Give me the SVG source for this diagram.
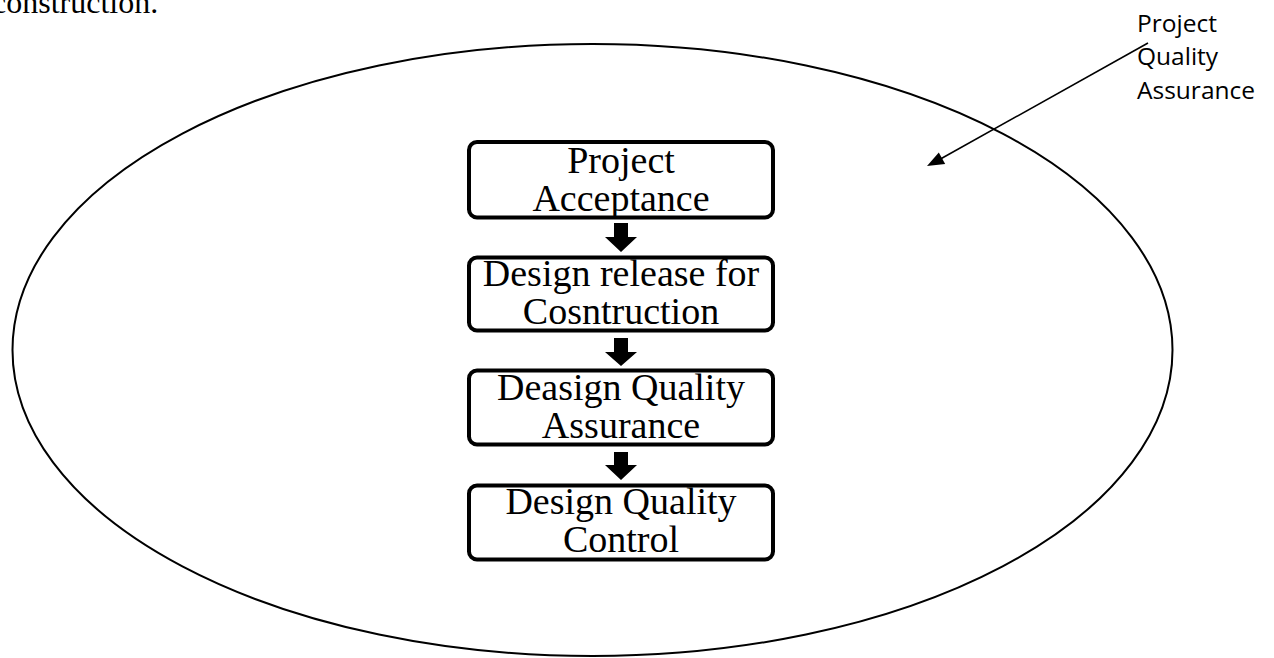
<svg xmlns="http://www.w3.org/2000/svg" width="1274" height="658" viewBox="0 0 1274 658">
  <style>
    .box { fill: #ffffff; stroke: #000000; stroke-width: 4; }
    .serif { font-family: "Liberation Serif", "Times New Roman", serif; fill: #000000; }
    .lbl { font-size: 38px; text-anchor: middle; }
    .sans { font-family: "Open Sans", "Liberation Sans", sans-serif; font-size: 24.5px; fill: #000000; }
    .blk { fill: #000000; stroke: none; }
  </style>
  <rect x="0" y="0" width="1274" height="658" fill="#ffffff"/>
  <text class="serif" x="-8" y="13" font-size="32">construction.</text>

  <g id="boundary">
    <ellipse cx="592.5" cy="350" rx="580" ry="306" fill="none" stroke="#000000" stroke-width="2"/>
  </g>

  <g id="label-pqa">
    <text class="sans" x="1137" y="32">Project</text>
    <text class="sans" x="1137" y="65">Quality</text>
    <text class="sans" x="1137" y="99">Assurance</text>
  </g>

  <g id="node-acceptance">
    <rect class="box" x="469" y="142" width="304" height="75.5" rx="8"/>
    <text class="serif lbl" x="621" y="173">Project</text>
    <text class="serif lbl" x="621" y="211">Acceptance</text>
  </g>
  <g id="node-release">
    <rect class="box" x="469" y="257.5" width="304" height="73" rx="8"/>
    <text class="serif lbl" x="621" y="286">Design release for</text>
    <text class="serif lbl" x="621" y="324">Cosntruction</text>
  </g>
  <g id="node-qa">
    <rect class="box" x="469" y="370.5" width="304" height="74" rx="8"/>
    <text class="serif lbl" x="621" y="400">Deasign Quality</text>
    <text class="serif lbl" x="621" y="438">Assurance</text>
  </g>
  <g id="node-qc">
    <rect class="box" x="469" y="485.5" width="304" height="74" rx="8"/>
    <text class="serif lbl" x="621" y="514">Design Quality</text>
    <text class="serif lbl" x="621" y="552">Control</text>
  </g>

  <g id="connectors">
    <polygon class="blk" points="614,223 628,223 628,237 637,237 621,252 605,237 614,237"/>
    <polygon class="blk" points="614,338 628,338 628,352 637,352 621,366 605,352 614,352"/>
    <polygon class="blk" points="614,452 628,452 628,465 637,465 621,480 605,465 614,465"/>
    <line x1="1148" y1="43" x2="940" y2="159.3" stroke="#000000" stroke-width="1.6"/>
    <polygon class="blk" points="927,166 938.8,152.5 945.2,163.9"/>
  </g>
</svg>
